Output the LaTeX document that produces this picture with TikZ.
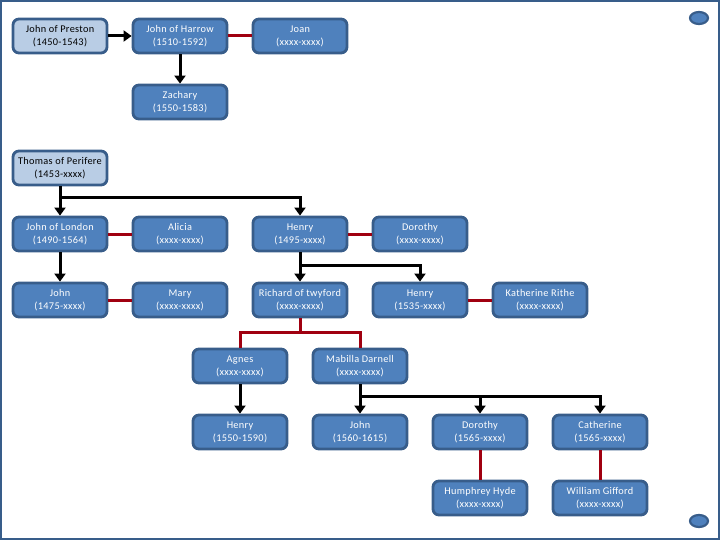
\documentclass[tikz,border=0pt]{standalone}
\usepackage{fontspec}
\setmainfont{Carlito}[LetterSpace=3]
\usetikzlibrary{arrows.meta,shapes.geometric}
\definecolor{boxfill}{RGB}{79,129,189}
\definecolor{boxline}{RGB}{56,93,138}
\definecolor{lightfill}{RGB}{185,205,229}
\definecolor{spouse}{RGB}{160,0,16}
\begin{document}
\begin{tikzpicture}[x=1pt,y=-1pt,
 person/.style={draw=boxline, line width=2.8pt, fill=boxfill, rounded corners=6pt,
   minimum width=94pt, minimum height=34pt, align=center, text=white,
   font=\fontsize{10.3}{13}\selectfont, inner sep=0pt},
 rootp/.style={person, fill=lightfill, text=black},
 childln/.style={draw=black, line width=3pt, -{Triangle[length=8pt,width=11pt]}},
 spouseln/.style={draw=spouse, line width=3pt},
 dot/.style={draw=boxline, line width=2.2pt, fill=boxfill, ellipse, minimum width=18pt, minimum height=12pt, inner sep=0pt}]
\useasboundingbox (0,0) rectangle (720,540);
\draw[boxline, line width=2.2pt] (1,1) rectangle (719,539);
\node[dot] (e1) at (699,18) {};
\node[dot] (e2) at (699,521) {};
% row 1
\node[rootp] (preston) at (60,36) {John of Preston\\(1450-1543)};
\node[person] (harrow) at (180,36) {John of Harrow\\(1510-1592)};
\node[person] (joan) at (300,36) {Joan\\(xxxx-xxxx)};
\node[person] (zachary) at (180,102) {Zachary\\(1550-1583)};
% Thomas branch
\node[rootp] (thomas) at (60,168) {Thomas of Perifere\\(1453-xxxx)};
\node[person] (jlondon) at (60,234) {John of London\\(1490-1564)};
\node[person] (alicia) at (180,234) {Alicia\\(xxxx-xxxx)};
\node[person] (henry) at (300,234) {Henry\\(1495-xxxx)};
\node[person] (dorothy) at (420,234) {Dorothy\\(xxxx-xxxx)};
\node[person] (john) at (60,300) {John\\(1475-xxxx)};
\node[person] (mary) at (180,300) {Mary\\(xxxx-xxxx)};
\node[person] (richard) at (300,300) {Richard of twyford\\(xxxx-xxxx)};
\node[person] (henryb) at (420,300) {Henry\\(1535-xxxx)};
\node[person] (kath) at (540,300) {Katherine Rithe\\(xxxx-xxxx)};
\node[person] (agnes) at (240,366) {Agnes\\(xxxx-xxxx)};
\node[person] (mabilla) at (360,366) {Mabilla Darnell\\(xxxx-xxxx)};
\node[person] (henryc) at (240,432) {Henry\\(1550-1590)};
\node[person] (johnb) at (360,432) {John\\(1560-1615)};
\node[person] (dorothyb) at (480,432) {Dorothy\\(1565-xxxx)};
\node[person] (cath) at (600,432) {Catherine\\(1565-xxxx)};
\node[person] (humph) at (480,498) {Humphrey Hyde\\(xxxx-xxxx)};
\node[person] (will) at (600,498) {William Gifford\\(xxxx-xxxx)};
% junction points
\coordinate (tj) at (60,198);
\coordinate (hj) at (300,265);
\coordinate (rj) at (300,332);
\coordinate (mj) at (360,396);
% connectors
\draw[childln] (preston) -- (harrow);
\draw[spouseln] (harrow) -- (joan);
\draw[childln] (harrow) -- (zachary);
\draw[childln] (thomas) -- (jlondon);
\draw[childln] (tj) -| (henry.north);
\draw[spouseln] (jlondon) -- (alicia);
\draw[spouseln] (henry) -- (dorothy);
\draw[childln] (jlondon) -- (john);
\draw[spouseln] (john) -- (mary);
\draw[childln] (henry) -- (richard);
\draw[childln] (hj) -| (henryb.north);
\draw[spouseln] (henryb) -- (kath);
\draw[spouseln] (richard.south) -- (rj);
\draw[spouseln] (agnes.north) |- (rj) -| (mabilla.north);
\draw[childln] (agnes) -- (henryc);
\draw[childln] (mabilla) -- (johnb);
\draw[childln] (mj) -| (dorothyb.north);
\draw[childln] (mj) -| (cath.north);
\draw[spouseln] (dorothyb) -- (humph);
\draw[spouseln] (cath) -- (will);
\end{tikzpicture}
\end{document}
